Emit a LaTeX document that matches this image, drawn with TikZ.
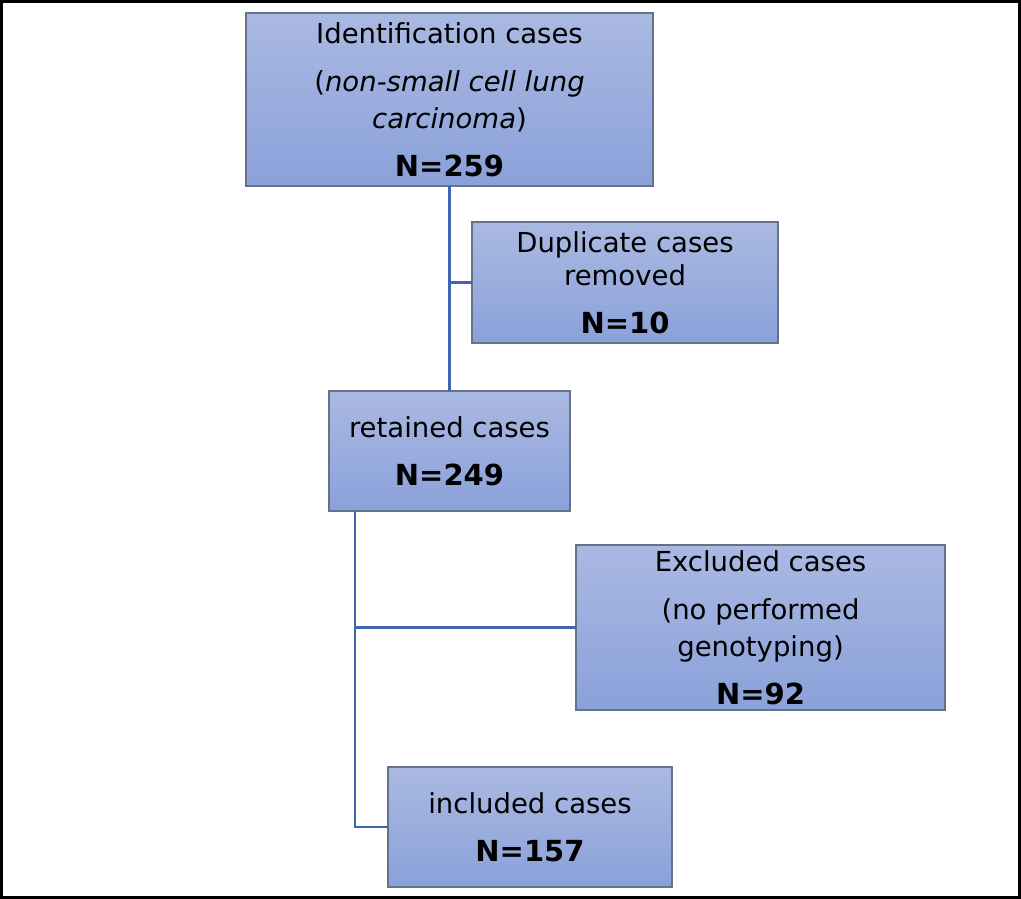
\documentclass[tikz,border=0pt]{standalone}
\usepackage{fontspec}
\setmainfont{DejaVu Sans}
\usetikzlibrary{positioning,calc}
\definecolor{boxtop}{HTML}{AAB9E2}
\definecolor{boxbottom}{HTML}{8AA1D9}
\definecolor{boxedge}{HTML}{66718A}
\definecolor{linkblue}{HTML}{3F67B1}
\newcommand{\casecount}[1]{{\fontsize{29}{36}\selectfont\bfseries #1}}

\begin{document}
\begin{tikzpicture}[
  x=1pt, y=-1pt,
  stagebox/.style={draw=boxedge, line width=1.3pt, top color=boxtop,
    bottom color=boxbottom, inner sep=0pt, outer sep=0pt, align=center,
    font=\fontsize{27.5}{37}\selectfont},
  link/.style={draw=linkblue, line width=2.6pt}
]
\useasboundingbox (0,0) rectangle (1021,899);
\draw[line width=3pt] (1.5,1.5) rectangle (1019.5,897.5);

\node[stagebox, minimum width=407pt, minimum height=173pt] (ident) at (449.5,99.5)
  {Identification cases\\[11pt](\textit{non-small cell lung}\\\textit{carcinoma})\\[11pt]\casecount{N=259}};
\node[stagebox, minimum width=306pt, minimum height=121pt] (dup) at (625,282.5)
  {Duplicate cases\\[-4pt]removed\\[11pt]\casecount{N=10}};
\node[stagebox, minimum width=241pt, minimum height=120pt] (kept) at (449.5,451)
  {retained cases\\[11pt]\casecount{N=249}};
\node[stagebox, minimum width=369pt, minimum height=165pt] (excl) at (760.5,627.5)
  {Excluded cases\\[11pt](no performed\\genotyping)\\[11pt]\casecount{N=92}};
\node[stagebox, minimum width=284pt, minimum height=120pt] (incl) at (530,827)
  {included cases\\[11pt]\casecount{N=157}};

% connectors
\draw[link] (ident.south) -- (kept.north);
\draw[link] (ident.south |- dup.west) -- (dup.west);
\coordinate (trunk) at ($(kept.south west)+(26,0)$);
\draw[link] (trunk) |- (incl.west);
\draw[link] (trunk |- excl.west) -- (excl.west);
\end{tikzpicture}
\end{document}
